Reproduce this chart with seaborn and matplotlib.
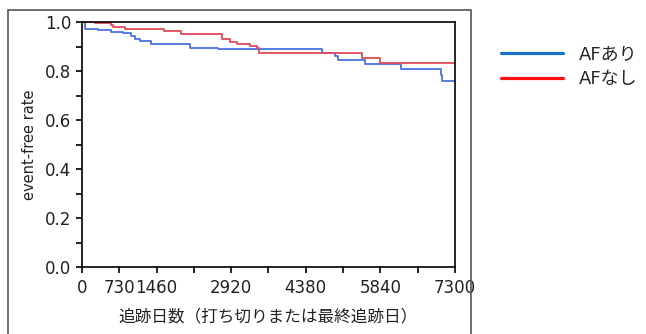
import numpy as np
import pandas as pd
import seaborn as sns
import matplotlib.pyplot as plt
from matplotlib.lines import Line2D
from matplotlib.patches import Rectangle

# Kaplan-Meier step values (day, event-free rate)
af_ari_days = [0, 53, 313, 574, 802, 965, 1031, 1129, 1357, 2114, 2668,
               4703, 4952, 5016, 5539, 6237, 7020, 7052, 7300]
af_ari_rate = [1.0, 0.973, 0.967, 0.959, 0.954, 0.943, 0.932, 0.922, 0.909,
               0.895, 0.889, 0.875, 0.861, 0.845, 0.827, 0.807, 0.784, 0.760, 0.760]

af_nashi_days = [0, 249, 568, 607, 836, 1605, 1932, 2734, 2897, 3028, 3288,
                 3431, 3470, 5474, 5832, 7300]
af_nashi_rate = [1.0, 0.995, 0.987, 0.981, 0.973, 0.963, 0.950, 0.929, 0.920,
                 0.909, 0.902, 0.893, 0.875, 0.854, 0.834, 0.834]

groups = ["AFあり", "AFなし"]
x_ticks = [0, 730, 1460, 2190, 2920, 3650, 4380, 5110, 5840, 6570, 7300]
x_tick_labels = ["0", "730", "1460", "", "2920", "", "4380", "", "5840", "", "7300"]

df = pd.concat([
    pd.DataFrame({"days": af_ari_days, "rate": af_ari_rate, "group": groups[0]}),
    pd.DataFrame({"days": af_nashi_days, "rate": af_nashi_rate, "group": groups[1]}),
])

sns.set_style("ticks")
plt.rcParams["font.family"] = ["DejaVu Sans", "Noto Sans CJK JP"]

fig = plt.figure(figsize=(6.46, 3.34), dpi=100)
ax = fig.add_axes([0.1269, 0.2006, 0.5774, 0.7335])

sns.lineplot(data=df, x="days", y="rate", hue="group", hue_order=groups,
             palette={"AFあり": "#4a72e0", "AFなし": "#e04a5c"},
             drawstyle="steps-post", estimator=None, sort=False,
             linewidth=1.3, legend=False, ax=ax)

ax.set_xlim(0, 7300)
ax.set_ylim(0, 1.0)
ax.set_xticks(x_ticks)
ax.set_xticklabels(x_tick_labels)
ax.set_yticks(np.arange(0, 1.01, 0.2))
ax.set_yticklabels(["0.0", "0.2", "0.4", "0.6", "0.8", "1.0"])
ax.set_yticks(np.arange(0.1, 1.0, 0.2), minor=True)
ax.tick_params(axis="both", which="both", direction="out", length=4,
               width=1.2, color="black", labelsize=12, labelcolor="#222222")
ax.tick_params(axis="x", pad=5)

for s in ax.spines.values():
    s.set_visible(True)
    s.set_color("black")
    s.set_linewidth(1.2)

ax.set_xlabel("追跡日数（打ち切りまたは最終追跡日）", fontsize=12,
              family=["Noto Sans CJK JP", "DejaVu Sans"], color="#222222",
              labelpad=8)
ax.set_ylabel("event-free rate", fontsize=10.5, color="#222222", labelpad=6)

# outer frame around the plot area
fig.patches.append(Rectangle((8 / 646, -0.1), (471 - 8) / 646, 1.1 - 10 / 334,
                             transform=fig.transFigure, fill=False,
                             edgecolor="#555555", linewidth=1.2))

handles = [Line2D([], [], color="#1a6fc6", linewidth=2.3),
           Line2D([], [], color="#ff1010", linewidth=2.3)]
fig.legend(handles, groups, loc="upper left", bbox_to_anchor=(0.765, 0.885),
           frameon=False, handlelength=3.4, handletextpad=0.9,
           labelspacing=0.35, borderaxespad=0,
           prop={"family": ["DejaVu Sans", "Noto Sans CJK JP"], "size": 13})

fig.savefig("out.png", dpi=100)
